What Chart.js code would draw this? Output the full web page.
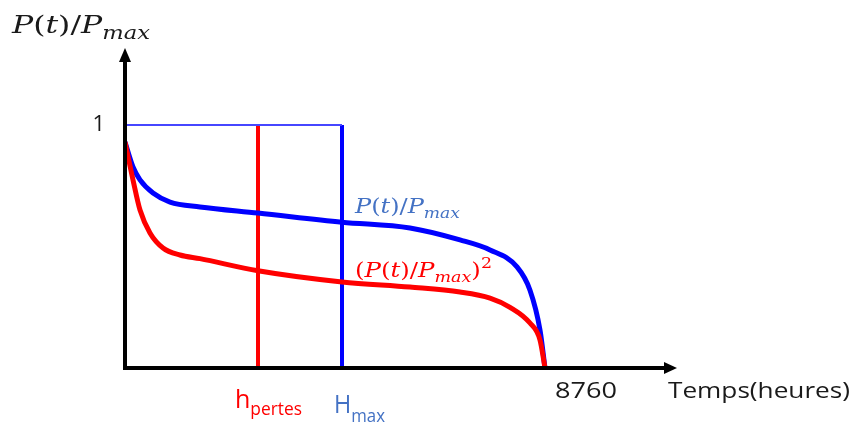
<!DOCTYPE html>
<html>
<head>
<meta charset="utf-8">
<script src="https://cdn.jsdelivr.net/npm/chart.js@4.4.1/dist/chart.umd.min.js"></script>
<style>
html,body{margin:0;padding:0;background:#fff;}
#wrap{width:854px;height:423px;position:relative;}
</style>
</head>
<body>
<div id="wrap"><canvas id="c" width="854" height="423"></canvas></div>
<script>
// ---- data (hours, P/Pmax) ----
const blueHours  = [0, 167, 313, 584, 939, 1564, 2774, 4526, 5944, 6987, 7613, 8176, 8447, 8656, 8760];
const blueValues = [0.93, 0.827, 0.774, 0.72, 0.683, 0.663, 0.638, 0.60, 0.576, 0.527, 0.486, 0.416, 0.32, 0.156, 0];
const redHours   = [0, 167, 313, 521, 793, 1147, 1564, 2774, 4526, 5944, 6987, 7613, 8030, 8447, 8656, 8760];
const redValues  = [0.93, 0.774, 0.65, 0.556, 0.494, 0.465, 0.45, 0.40, 0.354, 0.333, 0.313, 0.288, 0.25, 0.185, 0.115, 0];
const markers    = [2774, 4526];          // h_pertes, H_max
const yTicks     = [1];
const xTicks     = [8760];

const toPts = (xs, ys) => xs.map((x, i) => ({x, y: ys[i]}));

const SERIF = '"DejaVu Serif", "Liberation Serif", serif';
const SANS = '"Open Sans", Lato, "Liberation Sans", sans-serif';

// draw a run of styled text parts, stretched horizontally to a target width
function drawFit(ctx, parts, x, y, targetW) {
  let w = 0;
  for (const p of parts) { ctx.font = p.font; w += ctx.measureText(p.t).width; }
  const sx = targetW ? targetW / w : 1;
  ctx.save();
  ctx.translate(x, y);
  ctx.scale(sx, 1);
  let cx = 0;
  ctx.textBaseline = 'alphabetic';
  ctx.textAlign = 'left';
  for (const p of parts) {
    ctx.font = p.font;
    ctx.fillStyle = p.color;
    ctx.fillText(p.t, cx, p.dy || 0);
    cx += ctx.measureText(p.t).width;
  }
  ctx.restore();
}
function mathParts(size, color, squared) {
  const it = 'italic ' + size + 'px ' + SERIF;
  const up = size + 'px ' + SERIF;
  const sub = 'italic ' + Math.round(size * 0.72) + 'px ' + SERIF;
  const arr = [];
  if (squared) arr.push({t: '(', font: up, color});
  arr.push({t: 'P', font: it, color}, {t: '(', font: up, color}, {t: 't', font: it, color},
           {t: ')', font: up, color}, {t: '/', font: up, color}, {t: 'P', font: it, color},
           {t: 'max', font: sub, color, dy: Math.round(size * 0.25)});
  if (squared) {
    arr.push({t: ')', font: up, color});
    arr.push({t: '2', font: Math.round(size * 0.72) + 'px ' + SERIF, color, dy: -Math.round(size * 0.45)});
  }
  return arr;
}

const annot = {
  id: 'annot',
  afterDatasetsDraw(chart) {
    const ctx = chart.ctx;
    const xs = chart.scales.x, ys = chart.scales.y;
    const x0 = xs.getPixelForValue(0), y0 = ys.getPixelForValue(0);
    ctx.save();
    ctx.strokeStyle = '#000';
    ctx.fillStyle = '#000';
    ctx.lineWidth = 4;
    // y axis
    const yTop = ys.getPixelForValue(ys.max);
    ctx.beginPath(); ctx.moveTo(x0, y0 + 2); ctx.lineTo(x0, yTop + 10); ctx.stroke();
    ctx.beginPath(); ctx.moveTo(x0, yTop); ctx.lineTo(x0 - 6, yTop + 14); ctx.lineTo(x0 + 6, yTop + 14); ctx.closePath(); ctx.fill();
    // x axis
    const xEnd = xs.getPixelForValue(xs.max);
    ctx.beginPath(); ctx.moveTo(x0 - 2, y0); ctx.lineTo(xEnd - 10, y0); ctx.stroke();
    ctx.beginPath(); ctx.moveTo(xEnd, y0); ctx.lineTo(xEnd - 13, y0 - 6); ctx.lineTo(xEnd - 13, y0 + 6); ctx.closePath(); ctx.fill();

    const TXT = '#1a1a1a';
    // tick labels
    ctx.font = '22px ' + SANS;
    ctx.fillStyle = TXT;
    ctx.textBaseline = 'middle';
    ctx.textAlign = 'right';
    yTicks.forEach(v => ctx.fillText(String(v), x0 - 20, ys.getPixelForValue(v)));
    xTicks.forEach(v => drawFit(ctx, [{t: String(v), font: '22px ' + SANS, color: TXT}], xs.getPixelForValue(v) + 10, y0 + 30, 62));
    drawFit(ctx, [{t: 'Temps(heures)', font: '22px ' + SANS, color: TXT}], 668, y0 + 30, 182);

    // marker labels
    const hx = xs.getPixelForValue(markers[0]), Hx = xs.getPixelForValue(markers[1]);
    drawFit(ctx, [{t: 'h', font: '26px ' + SANS, color: '#ff0000'},
                  {t: 'pertes', font: '18px ' + SANS, color: '#ff0000', dy: 7}], hx - 23, y0 + 40, 67);
    drawFit(ctx, [{t: 'H', font: '25px ' + SANS, color: '#4472c4'},
                  {t: 'max', font: '18px ' + SANS, color: '#4472c4', dy: 9}], Hx - 8, y0 + 45, 51);

    // axis title and curve labels
    drawFit(ctx, mathParts(25, '#1a1a1a', false), 12, 33, 138);
    drawFit(ctx, mathParts(21, '#4472c4', false), 355, 213, 105);
    drawFit(ctx, mathParts(21, '#ff0000', true), 355, 277, 137);
    ctx.restore();
  }
};

new Chart(document.getElementById('c'), {
  type: 'line',
  data: {
    datasets: [
      {data: [{x: 0, y: 1}, {x: markers[1], y: 1}], borderColor: 'rgb(70,70,255)', borderWidth: 2, pointRadius: 0, tension: 0},
      {data: toPts(redHours, redValues), borderColor: '#ff0000', borderWidth: 5, pointRadius: 0, cubicInterpolationMode: 'monotone', borderJoinStyle: 'round'},
      {data: toPts(blueHours, blueValues), borderColor: '#0000ff', borderWidth: 5, pointRadius: 0, cubicInterpolationMode: 'monotone', borderJoinStyle: 'round'},
      {data: [{x: markers[0], y: 0}, {x: markers[0], y: 1}], borderColor: '#ff0000', borderWidth: 4, pointRadius: 0, tension: 0},
      {data: [{x: markers[1], y: 0}, {x: markers[1], y: 1}], borderColor: '#0000ff', borderWidth: 4, pointRadius: 0, tension: 0}
    ]
  },
  options: {
    responsive: false,
    animation: false,
    events: [],
    layout: {padding: {left: 125, right: 177, top: 48, bottom: 55}},
    plugins: {legend: {display: false}, tooltip: {enabled: false}, title: {display: false}},
    scales: {
      x: {type: 'linear', min: 0, max: 11513, display: false},
      y: {type: 'linear', min: 0, max: 1.317, display: false}
    }
  },
  plugins: [annot]
});
</script>
</body>
</html>
